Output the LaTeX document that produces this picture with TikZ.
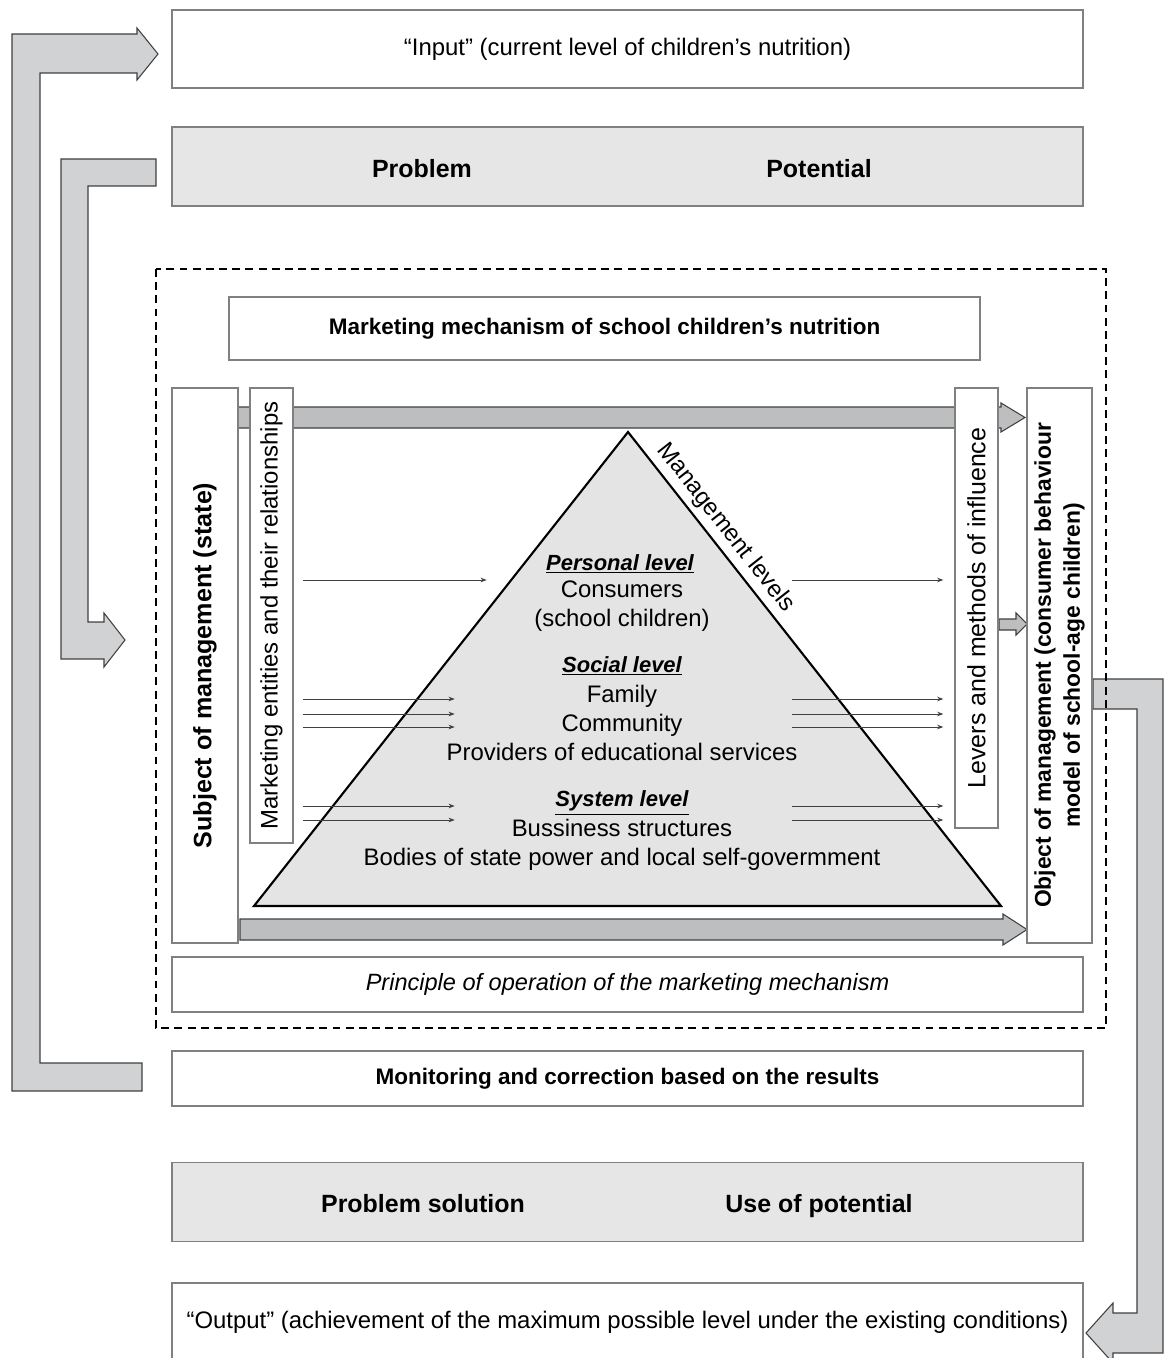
\documentclass[tikz,border=0pt]{standalone}
\usepackage{fontspec}
\setmainfont{Liberation Sans}
\usetikzlibrary{arrows.meta,calc,positioning}
\definecolor{arrowgray}{HTML}{D1D2D4}
\definecolor{flowgray}{HTML}{BCBEC0}
\definecolor{panelgray}{HTML}{E6E6E6}
\definecolor{trigray}{HTML}{E4E4E4}
\definecolor{framegray}{HTML}{808080}
\definecolor{outlinegray}{HTML}{404040}

\begin{document}
\begin{tikzpicture}[x=0.02cm, y=-0.02cm,
    every node/.style={font=\fontsize{13.6}{16.4}\selectfont},
    box/.style={draw=framegray, line width=0.8pt, fill=white, inner sep=0pt, align=center},
    widebox/.style={box, minimum width=18.22cm},
    panel/.style={widebox, fill=panelgray, minimum height=1.58cm},
    vbox/.style={box, rotate=90},
    strong/.style={font=\fontsize{12.8}{16.4}\selectfont\bfseries},
    headline/.style={font=\fontsize{14.2}{16.4}\selectfont\bfseries, text height=0.75em, text depth=0.22em},
    level/.style={font=\fontsize{12.5}{16.4}\selectfont\bfseries\itshape},
    blockarrow/.style={draw=outlinegray, line width=0.6pt, fill=arrowgray},
    flow/.style={draw=outlinegray, line width=0.6pt, fill=flowgray},
    fine/.style={draw=outlinegray, line width=0.5pt, -{Stealth[length=3.5pt,width=2.6pt]}}
]
\useasboundingbox (0,0) rectangle (1165,1358);

% feedback arrows round the outside
\draw[blockarrow] (158,54) -- (137,28) -- (137,34) -- (12,34) -- (12,1091) -- (142,1091)
    -- (142,1063) -- (40,1063) -- (40,73) -- (137,73) -- (137,80) -- cycle;
\draw[blockarrow] (156,159) -- (61,159) -- (61,659) -- (104,659) -- (104,667) -- (125,640)
    -- (104,613) -- (104,622) -- (88,622) -- (88,186) -- (156,186) -- cycle;
\draw[blockarrow] (1093,679) -- (1163,679) -- (1163,1353) -- (1113,1353) -- (1113,1363)
    -- (1086,1333) -- (1113,1303) -- (1113,1313) -- (1137,1313) -- (1137,709) -- (1093,709) -- cycle;

% flows from subject to object
\draw[flow] (238,407) -- (1001,407) -- (1001,403) -- (1025,417.5) -- (1001,432) -- (1001,428) -- (238,428) -- cycle;
\draw[flow] (240,919) -- (1003,919) -- (1003,914) -- (1027,929.5) -- (1003,945) -- (1003,940) -- (240,940) -- cycle;
\draw[flow] (999,619) -- (1016,619) -- (1016,613) -- (1027,624) -- (1016,635) -- (1016,630) -- (999,630) -- cycle;

% pyramid of management levels
\draw[fill=trigray, line width=1.2pt, line join=miter] (254,906) -- (628,432)
    -- node[pos=0.225, sloped, anchor=south, inner sep=3pt] (mlevels) {Management levels} (1001,906) -- cycle;

% mechanism frame
\draw[dashed, line width=0.9pt, dash pattern=on 4.5pt off 3pt] (156,269) rectangle (1106,1028);

\node[widebox, minimum height=1.56cm] (input) at (627.5,49) {“Input” (current level of children’s nutrition)};
\node[panel] (problems) at (627.5,166.5) {};
\node[headline] (problem) at (422,173) {Problem};
\node[headline] (potential) at (819,173) {Potential};

\node[box, strong, minimum width=15.02cm, minimum height=1.26cm] (mech) at (604.5,328.5) {Marketing mechanism of school children’s nutrition};

\node[vbox, font=\fontsize{14.3}{16.4}\selectfont\bfseries, minimum width=11.1cm, minimum height=1.32cm] (subject) at (205,665.5) {Subject of management (state)};
\node[vbox, minimum width=9.1cm, minimum height=0.86cm] (entities) at (271.5,615.5) {Marketing entities and their relationships};
\node[vbox, font=\fontsize{14.2}{16.4}\selectfont, minimum width=8.8cm, minimum height=0.86cm] (levers) at (976.5,608) {Levers and methods of influence};
\node[vbox, font=\fontsize{13}{16.4}\selectfont\bfseries, minimum width=11.1cm, minimum height=1.3cm] (object) at (1059.5,665.5) {Object of management (consumer behaviour\\model of school-age children)};

\node[widebox, minimum height=1.1cm, font=\fontsize{13.4}{16.4}\selectfont\itshape] (principle) at (627.5,984.5) {Principle of operation of the marketing mechanism};
\node[widebox, strong, minimum height=1.1cm] (monitor) at (627.5,1078.5) {Monitoring and correction based on the results};
\node[panel] (results) at (627.5,1202) {};
\node[headline] (solution) at (423,1208) {Problem solution};
\node[headline] (usepot) at (819,1208) {Use of potential};
\node[widebox, minimum height=1.64cm] (output) at (627.5,1324) {};
\node at (627.5,1322) {“Output” (achievement of the maximum possible level under the existing conditions)};

% levels inside the pyramid
\node[level] (personal) at (620,564) {\underline{Personal level}};
\node[align=center] (consumers) at (622,606) {Consumers\\(school children)};
\node[level] (social) at (622,666) {\underline{Social level}};
\node[align=center] (socialgroups) at (622,723) {Family\\Community\\Providers of educational services};
\node[level] (system) at (622,803) {\underline{System level}};
\node[align=center] (systemgroups) at (622,845) {Bussiness structures\\Bodies of state power and local self-govermment};

% influence lines
\draw[fine] (entities.south |- 0,580) ++(9,0) -- ++(184,0);
\draw[fine] (levers.north |- 0,580) ++(-162,0) -- ++(151,0);
\foreach \y in {699,714,727,806,820} {
    \draw[fine] (entities.south |- 0,\y) ++(9,0) -- ++(152,0);
    \draw[fine] (levers.north |- 0,\y) ++(-162,0) -- ++(151,0);
}
\end{tikzpicture}
\end{document}
